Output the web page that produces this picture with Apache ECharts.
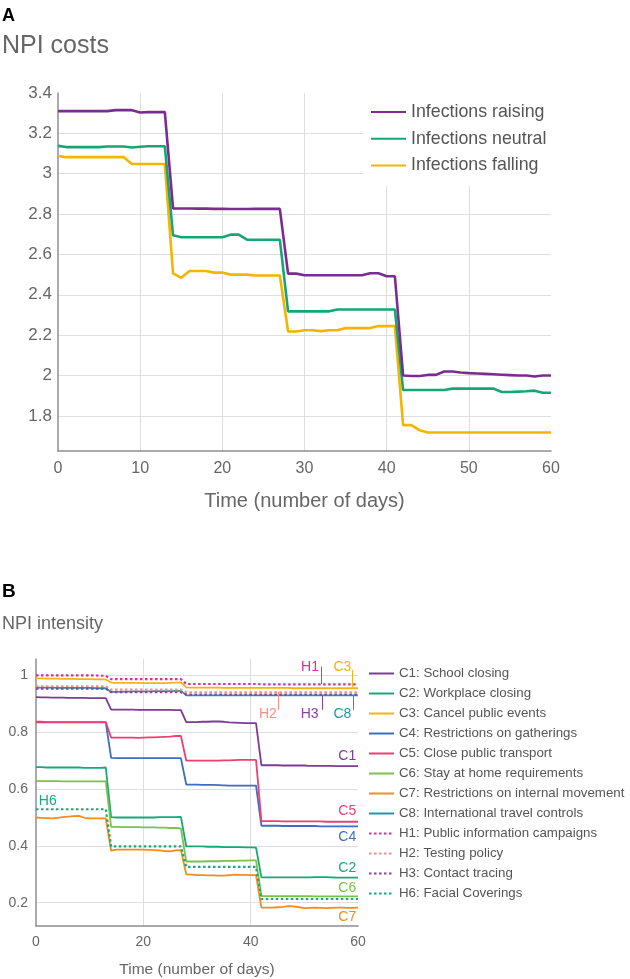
<!DOCTYPE html>
<html><head><meta charset="utf-8">
<script src="https://cdn.jsdelivr.net/npm/echarts@6/dist/echarts.min.js"></script>
<style>html,body{margin:0;padding:0;background:#fff}#c{width:630px;height:979px}</style>
</head><body><div id="c"></div>
<script>
// ---------- DATA ----------
const days = [0,1,2,3,4,5,6,7,8,9,10,11,12,13,14,15,16,17,18,19,20,21,22,23,24,25,26,27,28,29,30,31,32,33,34,35,36,37,38,39,40,41,42,43,44,45,46,47,48,49,50,51,52,53,54,55,56,57,58,59,60];

// Panel A: NPI costs
const costNames = ['Infections raising','Infections neutral','Infections falling'];
const costRaising = [3.31,3.31,3.31,3.31,3.31,3.31,3.31,3.315,3.315,3.315,3.303,3.305,3.305,3.306,
  2.828,2.828,2.828,2.827,2.827,2.826,2.826,2.825,2.825,2.825,2.826,2.826,2.826,2.826,
  2.505,2.505,2.497,2.497,2.497,2.497,2.497,2.497,2.497,2.497,2.507,2.507,2.492,2.492,
  2.0,1.998,1.998,2.003,2.003,2.02,2.02,2.015,2.012,2.01,2.008,2.006,2.004,2.002,2.0,2.0,1.995,2.0,2.0];
const costNeutral = [3.138,3.132,3.132,3.132,3.132,3.132,3.135,3.135,3.135,3.13,3.134,3.136,3.136,3.136,
  2.695,2.685,2.685,2.685,2.685,2.685,2.685,2.698,2.698,2.673,2.673,2.673,2.673,2.673,
  2.318,2.318,2.318,2.318,2.318,2.318,2.327,2.327,2.327,2.327,2.327,2.327,2.327,2.327,
  1.928,1.928,1.928,1.928,1.928,1.928,1.935,1.935,1.935,1.935,1.935,1.935,1.918,1.918,1.92,1.922,1.925,1.915,1.915];
const costFalling = [3.088,3.082,3.082,3.082,3.082,3.082,3.082,3.082,3.082,3.048,3.048,3.048,3.048,3.048,
  2.506,2.484,2.518,2.518,2.518,2.51,2.51,2.50,2.50,2.50,2.496,2.496,2.496,2.496,
  2.218,2.218,2.224,2.224,2.22,2.224,2.224,2.235,2.235,2.235,2.235,2.245,2.245,2.245,
  1.754,1.754,1.729,1.718,1.718,1.718,1.718,1.718,1.718,1.718,1.718,1.718,1.718,1.718,1.718,1.718,1.718,1.718,1.718];
const costTicks = [1.8,2,2.2,2.4,2.6,2.8,3,3.2,3.4];

// Panel B: NPI intensity
const npiNames = ['C1: School closing','C2: Workplace closing','C3: Cancel public events','C4: Restrictions on gatherings',
  'C5: Close public transport','C6: Stay at home requirements','C7: Restrictions on internal movement',
  'C8: International travel controls','H1: Public information campaigns','H2: Testing policy','H3: Contact tracing','H6: Facial Coverings'];
const C1 = [0.924,0.923,0.923,0.922,0.922,0.922,0.921,0.921,0.921,0.921,0.920,0.920,0.920,0.920,
  0.880,0.880,0.880,0.880,0.880,0.879,0.879,0.879,0.879,0.879,0.879,0.879,0.878,0.878,
  0.836,0.836,0.836,0.837,0.837,0.838,0.838,0.837,0.835,0.834,0.833,0.832,0.832,0.832,
  0.684,0.684,0.684,0.684,0.683,0.683,0.683,0.683,0.683,0.682,0.682,0.682,0.682,0.682,0.681,0.681,0.681,0.681,0.681];
const C2 = [0.677,0.677,0.676,0.676,0.676,0.676,0.676,0.676,0.676,0.675,0.675,0.675,0.675,0.676,
  0.501,0.500,0.500,0.500,0.500,0.500,0.500,0.500,0.500,0.501,0.501,0.501,0.501,0.502,
  0.398,0.398,0.398,0.398,0.397,0.397,0.397,0.396,0.396,0.396,0.396,0.395,0.395,0.394,
  0.289,0.289,0.289,0.289,0.289,0.289,0.289,0.289,0.289,0.289,0.290,0.290,0.290,0.289,0.288,0.288,0.288,0.288,0.288];
const C3 = [0.990,0.990,0.989,0.989,0.989,0.988,0.988,0.988,0.987,0.987,0.987,0.986,0.986,0.986,
  0.975,0.974,0.974,0.974,0.974,0.974,0.973,0.973,0.973,0.973,0.973,0.974,0.975,0.976,
  0.958,0.957,0.957,0.957,0.957,0.957,0.957,0.956,0.956,0.956,0.956,0.956,0.956,0.956,
  0.956,0.956,0.956,0.956,0.956,0.956,0.955,0.955,0.955,0.955,0.955,0.955,0.955,0.955,0.955,0.955,0.955,0.955,0.955];
const C4 = [0.835,0.835,0.835,0.835,0.835,0.835,0.835,0.835,0.835,0.835,0.835,0.835,0.835,0.835,
  0.710,0.709,0.709,0.709,0.709,0.709,0.709,0.709,0.709,0.709,0.709,0.709,0.709,0.709,
  0.616,0.616,0.616,0.615,0.615,0.615,0.614,0.613,0.612,0.612,0.612,0.612,0.612,0.612,
  0.471,0.471,0.471,0.471,0.470,0.470,0.470,0.470,0.470,0.470,0.470,0.469,0.469,0.469,0.469,0.469,0.469,0.469,0.469];
const C5 = [0.837,0.837,0.836,0.836,0.836,0.836,0.836,0.836,0.836,0.836,0.836,0.836,0.836,0.836,
  0.781,0.781,0.781,0.781,0.781,0.780,0.781,0.782,0.782,0.783,0.784,0.785,0.787,0.787,
  0.700,0.700,0.700,0.700,0.700,0.700,0.700,0.701,0.701,0.702,0.703,0.703,0.703,0.703,
  0.487,0.487,0.487,0.487,0.486,0.486,0.486,0.486,0.486,0.486,0.486,0.486,0.485,0.485,0.485,0.485,0.485,0.485,0.485];
const C6 = [0.628,0.628,0.628,0.628,0.628,0.627,0.627,0.627,0.627,0.627,0.627,0.627,0.627,0.627,
  0.467,0.467,0.466,0.466,0.466,0.466,0.465,0.465,0.465,0.464,0.464,0.463,0.463,0.462,
  0.345,0.345,0.345,0.345,0.346,0.346,0.346,0.347,0.347,0.347,0.348,0.348,0.349,0.349,
  0.223,0.223,0.223,0.223,0.223,0.223,0.223,0.223,0.223,0.223,0.222,0.222,0.222,0.222,0.222,0.222,0.222,0.222,0.222];
const C7 = [0.500,0.499,0.498,0.497,0.499,0.501,0.503,0.505,0.506,0.499,0.497,0.497,0.497,0.497,
  0.383,0.387,0.387,0.387,0.387,0.387,0.387,0.386,0.385,0.384,0.382,0.381,0.384,0.385,
  0.300,0.299,0.297,0.297,0.296,0.296,0.295,0.295,0.297,0.299,0.298,0.298,0.297,0.297,
  0.183,0.183,0.183,0.184,0.185,0.188,0.187,0.184,0.181,0.182,0.183,0.182,0.181,0.182,0.183,0.183,0.182,0.182,0.183];
const C8 = [0.957,0.957,0.957,0.957,0.956,0.956,0.956,0.956,0.956,0.956,0.956,0.955,0.955,0.955,
  0.942,0.942,0.943,0.943,0.944,0.944,0.944,0.944,0.945,0.945,0.945,0.945,0.946,0.946,
  0.930,0.930,0.930,0.930,0.930,0.930,0.930,0.930,0.930,0.930,0.930,0.930,0.930,0.930,
  0.930,0.930,0.930,0.930,0.930,0.930,0.930,0.930,0.930,0.930,0.930,0.930,0.930,0.930,0.930,0.930,0.930,0.930,0.930];
const H1 = [1.000,1.000,1.000,1.000,1.000,1.000,1.000,1.000,1.000,1.000,1.000,1.000,0.999,0.999,
  0.987,0.987,0.987,0.987,0.987,0.987,0.987,0.987,0.987,0.987,0.987,0.987,0.987,0.987,
  0.970,0.970,0.970,0.970,0.970,0.970,0.970,0.970,0.970,0.970,0.970,0.970,0.970,0.970,
  0.969,0.969,0.969,0.969,0.969,0.969,0.969,0.969,0.969,0.969,0.969,0.969,0.969,0.969,0.969,0.969,0.969,0.969,0.969];
const H2 = [0.962,0.962,0.962,0.962,0.962,0.962,0.962,0.962,0.962,0.962,0.962,0.962,0.962,0.962,
  0.950,0.950,0.950,0.950,0.950,0.950,0.950,0.950,0.950,0.950,0.950,0.950,0.950,0.950,
  0.941,0.941,0.941,0.941,0.941,0.941,0.941,0.941,0.941,0.941,0.941,0.941,0.941,0.941,
  0.941,0.941,0.941,0.941,0.941,0.941,0.941,0.941,0.941,0.941,0.941,0.941,0.941,0.941,0.941,0.941,0.941,0.941,0.941];
const H3 = [0.954,0.954,0.954,0.954,0.954,0.954,0.954,0.954,0.954,0.954,0.954,0.954,0.954,0.954,
  0.941,0.941,0.941,0.941,0.941,0.941,0.941,0.941,0.941,0.941,0.941,0.941,0.941,0.941,
  0.933,0.933,0.933,0.933,0.933,0.933,0.933,0.933,0.933,0.933,0.933,0.933,0.933,0.933,
  0.933,0.933,0.933,0.933,0.933,0.933,0.933,0.933,0.933,0.933,0.933,0.933,0.933,0.933,0.933,0.933,0.933,0.933,0.933];
const H6 = [0.529,0.529,0.529,0.529,0.529,0.529,0.529,0.529,0.529,0.529,0.529,0.529,0.529,0.529,
  0.398,0.398,0.398,0.398,0.398,0.398,0.398,0.398,0.398,0.398,0.398,0.398,0.398,0.398,
  0.326,0.326,0.326,0.326,0.326,0.326,0.326,0.326,0.326,0.326,0.326,0.326,0.326,0.326,
  0.213,0.213,0.213,0.213,0.213,0.213,0.213,0.213,0.213,0.213,0.213,0.213,0.213,0.213,0.213,0.213,0.213,0.213,0.213];
const npiTicks = [0.2,0.4,0.6,0.8,1];

// Panel B annotations: [series index, label, day, value]
const npiLabels = [[0,'C1',58.0,0.715],[4,'C5',58.0,0.524],[3,'C4',58.0,0.431],[1,'C2',58.0,0.320],
  [5,'C6',58.0,0.250],[6,'C7',58.0,0.149],[11,'H6',2.2,0.559],
  [8,'H1',51.05,1.029],[2,'C3',57.1,1.029],[9,'H2',43.2,0.865],[10,'H3',51.0,0.865],[7,'C8',57.1,0.865]];
// leader ticks: [series index, day, value from, value to]
const npiLeaders = [[8,53.1,1.031,0.970],[2,59.0,1.019,0.957],[9,45.1,0.942,0.879],[10,53.3,0.932,0.879],[7,59.06,0.932,0.879]];

// ---------- STYLE ----------
const costColors = ['#7B2D8F','#17A673','#F5B400'];
const npiColors = ['#7E3A98','#18A878','#F7B30F','#3B6FC0','#EE3E72','#7CC04E','#F28C1E','#1A9AA5','#E22B9E','#F98C84','#8E3FA3','#19A97A'];
const npiDotted = [false,false,false,false,false,false,false,false,true,true,true,true];
const FONT = '"Liberation Sans", Arial, sans-serif';
const AX = '#8f8f8f', GRID = '#dedede', TXT = '#666';

const pairs = vals => days.map((d,i)=>[d, vals[i]]);
const costSeries = [costRaising, costNeutral, costFalling].map((v,i)=>({
  type:'line', name: costNames[i], xAxisIndex:0, yAxisIndex:0, data: pairs(v),
  symbol:'none', lineStyle:{width:2.6, color: costColors[i]}, itemStyle:{color: costColors[i]}, z: 5-i
}));
const npiVals = [C1,C2,C3,C4,C5,C6,C7,C8,H1,H2,H3,H6];
const npiSeries = npiVals.map((v,i)=>{
  const s = {
    type:'line', name: npiNames[i], xAxisIndex:1, yAxisIndex:1, data: pairs(v), symbol:'none',
    lineStyle:{width: npiDotted[i]?2.2:1.8, color: npiColors[i], type: npiDotted[i]?[2.5,2.5]:'solid'},
    itemStyle:{color: npiColors[i]}
  };
  const lbls = npiLabels.filter(l=>l[0]===i);
  if (lbls.length) s.markPoint = {
    symbol:'circle', symbolSize:0, silent:true,
    data: lbls.map(l=>({coord:[l[2], l[3]], label:{show:true, position:'inside', formatter:l[1], color:npiColors[i], fontSize:14, fontFamily:FONT}}))
  };
  const lds = npiLeaders.filter(l=>l[0]===i);
  if (lds.length) s.markLine = {
    symbol:'none', silent:true, label:{show:false},
    lineStyle:{type:'solid', width:1, color:npiColors[i]},
    data: lds.map(l=>[{coord:[l[1], l[2]]},{coord:[l[1], l[3]]}])
  };
  return s;
});

const chart = echarts.init(document.getElementById('c'), null, {renderer:'canvas'});
chart.setOption({
  animation:false,
  backgroundColor:'#fff',
  textStyle:{fontFamily:FONT},
  graphic:[
    {type:'text', left:2, top:7, style:{text:'A', font:'bold 18px '+FONT, fill:'#000'}},
    {type:'text', left:2, top:34, style:{text:'NPI costs', font:'25px '+FONT, fill:TXT}},
    {type:'text', left:2, top:582, style:{text:'B', font:'bold 19px '+FONT, fill:'#000'}},
    {type:'text', left:2, top:615, style:{text:'NPI intensity', font:'18px '+FONT, fill:TXT}}
  ],
  legend:[
    {data: costNames, orient:'vertical', left:363, top:93, itemWidth:35, itemHeight:14, itemGap:8.7,
     padding:[10,6,11,7], backgroundColor:'#fff', textStyle:{fontSize:17.8, color:'#555'},
     itemStyle:{opacity:0}, selectedMode:false, z:10},
    {data: npiNames, orient:'vertical', left:368, top:667, itemWidth:25, itemHeight:14, itemGap:7,
     padding:0, textStyle:{fontSize:13.3, color:'#555'}, itemStyle:{opacity:0}, selectedMode:false}
  ],
  grid:[
    {left:58, top:93, width:493, height:358},
    {left:36, top:659, width:322, height:269}
  ],
  xAxis:[
    {type:'value', gridIndex:0, min:0, max:60, interval:10,
     name:'Time (number of days)', nameLocation:'middle', nameGap:40, nameTextStyle:{fontSize:20, color:TXT},
     axisLine:{lineStyle:{color:AX, width:1.5}}, axisTick:{show:false},
     axisLabel:{fontSize:16, color:TXT, margin:10},
     splitLine:{show:true, showMinLine:false, showMaxLine:false, lineStyle:{color:GRID, width:1}}},
    {type:'value', gridIndex:1, min:0, max:60, interval:20,
     name:'Time (number of days)', nameLocation:'middle', nameGap:36, nameTextStyle:{fontSize:15.5, color:TXT},
     axisLine:{lineStyle:{color:AX, width:1.5}}, axisTick:{show:false},
     axisLabel:{fontSize:14, color:TXT, margin:9},
     splitLine:{show:true, showMinLine:false, showMaxLine:false, lineStyle:{color:GRID, width:1}}}
  ],
  yAxis:[
    {type:'value', gridIndex:0, min:1.626, max:3.4,
     axisLine:{show:true, lineStyle:{color:AX, width:1.5}}, axisTick:{show:false, customValues:costTicks},
     axisLabel:{fontSize:17, color:TXT, margin:6, customValues:costTicks},
     splitLine:{show:true, showMaxLine:false, lineStyle:{color:GRID, width:1}}},
    {type:'value', gridIndex:1, min:0.118, max:1.058,
     axisLine:{show:true, lineStyle:{color:AX, width:1.5}}, axisTick:{show:false, customValues:npiTicks},
     axisLabel:{fontSize:14, color:TXT, margin:8, customValues:npiTicks},
     splitLine:{show:true, lineStyle:{color:GRID, width:1}}}
  ],
  series: costSeries.concat(npiSeries)
});
</script>
</body></html>
